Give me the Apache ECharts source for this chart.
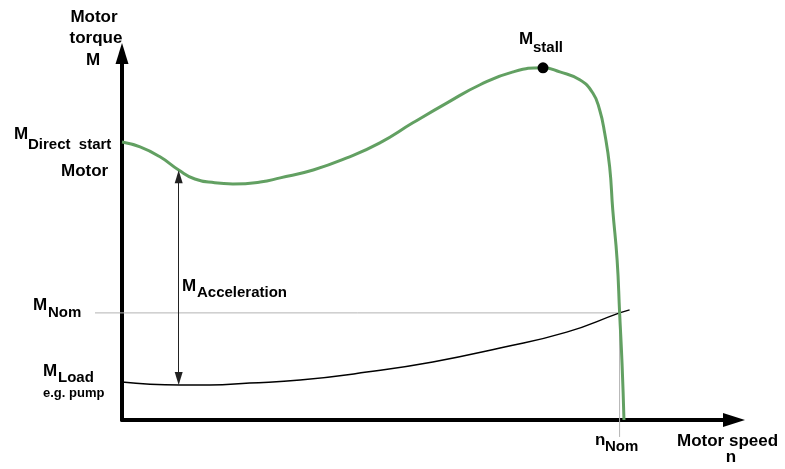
<!DOCTYPE html>
<html><head><meta charset="utf-8">
<script src="https://cdn.jsdelivr.net/npm/echarts@6/dist/echarts.min.js"></script>
<style>html,body{margin:0;padding:0;background:#fff}#c{width:785px;height:469px}</style>
</head><body><div id="c"></div>
<script>
// Motor torque curve (speed %, torque units)
const motorSpeed  = [0, 2.9, 6.1, 9.1, 11.7, 14.9, 17.8, 22.2, 25.4, 30.7, 36.1, 41.4, 46.7, 52.2, 57.5, 62.8, 67.6, 70.3, 73.5, 75.6, 76.7, 77.5, 78.3, 78.8, 79.5, 79.9, 80.3, 80.6];
const motorTorque = [73.7, 72.4, 69.8, 66.3, 63.9, 62.9, 62.6, 63.1, 64.2, 66.3, 69.5, 73.5, 78.8, 84.1, 88.9, 92.3, 93.4, 92.3, 90.2, 86.7, 82.2, 76.1, 67.1, 55.7, 42.4, 28.4, 14.6, 0];
// Load torque curve (e.g. pump)
const loadSpeed  = [0, 4.5, 9.3, 14.1, 20.5, 28.6, 39.3, 49.9, 60.7, 71.4, 79.9, 81.5];
const loadTorque = [10.1, 9.5, 9.3, 9.3, 9.8, 10.6, 12.7, 15.4, 19.1, 23.3, 28.4, 29.2];
// Nominal operating point
const nomSpeed = 79.9, nomTorque = 28.4;
const nomLineStart = -4.3, nomLineBottom = -4.5;
// Stall point
const stallPoint = [67.6, 93.4];
// Acceleration torque arrow
const accelSpeed = 9.1, accelTop = 64.5, accelBottom = 11.0;

const pairs = (xs, ys) => xs.map((x, i) => [x, ys[i]]);
const FONT = '"Liberation Sans", Arial, sans-serif';

function txt(x, baseline, s, size, align) {
  return {
    type: 'text', x: x, y: baseline - 0.35 * size, z: 100,
    style: { text: s, fill: '#000', font: 'bold ' + size + 'px ' + FONT,
             align: align || 'left', verticalAlign: 'middle' }
  };
}
const hiddenAxis = { show: false };

const chart = echarts.init(document.getElementById('c'));
chart.setOption({
  animation: false,
  backgroundColor: '#fff',
  grid: [
    { left: 122, right: 62, top: 64, bottom: 49 },
    { left: 95, right: 62, top: 64, bottom: 49 }
  ],
  xAxis: [{
    type: 'value', min: 0, max: 96.5, gridIndex: 0,
    axisLine: { show: true, onZero: true, symbol: ['none', 'triangle'], symbolSize: [14, 22], symbolOffset: [0, 11],
                lineStyle: { color: '#000', width: 4 } },
    axisTick: { show: false }, axisLabel: { show: false }, splitLine: { show: false }
  }, Object.assign({ type: 'value', min: nomLineStart, max: 96.5, gridIndex: 1 }, hiddenAxis)],
  yAxis: [{
    type: 'value', min: 0, max: 94.4, gridIndex: 0,
    axisLine: { show: true, onZero: true, symbol: ['none', 'triangle'], symbolSize: [13, 21], symbolOffset: [0, 10.5],
                lineStyle: { color: '#000', width: 4 } },
    axisTick: { show: false }, axisLabel: { show: false }, splitLine: { show: false }
  }, Object.assign({ type: 'value', min: 0, max: 94.4, gridIndex: 1 }, hiddenAxis)],
  series: [
    { type: 'line', xAxisIndex: 1, yAxisIndex: 1, data: [[nomLineStart, nomTorque], [nomSpeed, nomTorque]], clip: false, symbol: 'none',
      lineStyle: { color: '#b4b4b4', width: 1 }, z: 1 },
    { type: 'line', xAxisIndex: 1, yAxisIndex: 1, data: [[nomSpeed, nomTorque], [nomSpeed, nomLineBottom]], clip: false, symbol: 'none',
      lineStyle: { color: '#b4b4b4', width: 1 }, z: 1 },
    { type: 'line', data: pairs(loadSpeed, loadTorque), smooth: 0.5, symbol: 'none', clip: false,
      lineStyle: { color: '#000', width: 1.5 }, z: 2,
      markLine: {
        silent: true, symbol: ['triangle', 'triangle'], symbolSize: [8, 13], label: { show: false },
        lineStyle: { color: '#222', width: 1, type: 'solid' },
        data: [[{ coord: [accelSpeed, accelTop] }, { coord: [accelSpeed, accelBottom] }]]
      } },
    { type: 'line', data: pairs(motorSpeed, motorTorque), smooth: 0.5, symbol: 'none', clip: false,
      lineStyle: { color: '#62a062', width: 3 }, z: 3 },
    { type: 'scatter', data: [stallPoint], symbolSize: 11, itemStyle: { color: '#000', opacity: 1 }, z: 4 }
  ],
  graphic: [
    txt(94, 23, 'Motor', 17, 'center'),
    txt(96, 44.5, 'torque', 17, 'center'),
    txt(93, 66, 'M', 17, 'center'),
    txt(14, 140, 'M', 17), txt(28, 150, 'Direct  start', 15),
    txt(61, 177, 'Motor', 17),
    txt(182, 292, 'M', 17), txt(197, 298, 'Acceleration', 15),
    txt(33, 311, 'M', 17), txt(48, 318, 'Nom', 15),
    txt(43, 377, 'M', 17), txt(58, 383, 'Load', 15),
    txt(43, 398, 'e.g. pump', 13),
    txt(519, 45, 'M', 17), txt(533, 53, 'stall', 15),
    txt(595, 446, 'n', 17), txt(605, 452, 'Nom', 15),
    txt(677, 447, 'Motor speed', 17),
    txt(731, 463, 'n', 17, 'center')
  ]
});
</script></body></html>
